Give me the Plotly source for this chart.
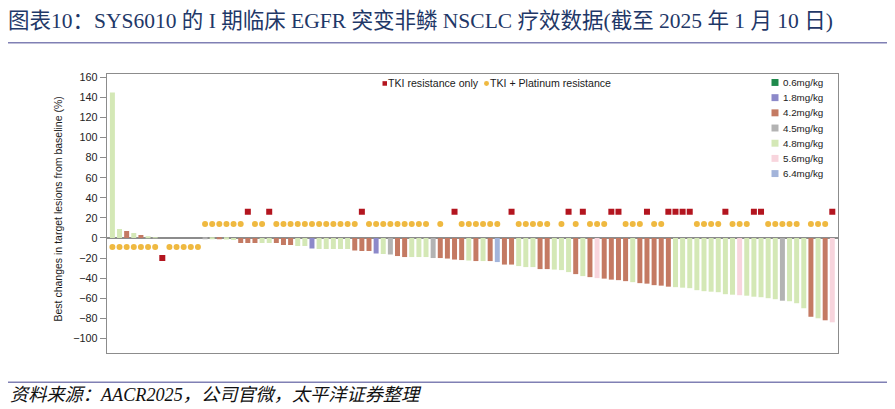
import plotly.graph_objects as go

# 每位病人的最佳肿瘤缩小幅度（%），按瀑布图顺序
values = [
    145, 9, 7, 5, 3, 1, 0.5, 0, 0, 0, 0, 0, 0,
    -0.5, -1, -1, -1.5, -2, -5, -5, -5, -5, -5, -5, -7, -7, -8, -8,
    -10.5, -11, -11, -11, -11, -11, -12.5, -13, -13, -15.5, -16, -16.5,
    -18, -19, -19, -19, -19, -20, -20, -20.5, -21.5, -22, -22.5, -23,
    -23, -23, -24, -26.5, -26.5, -28, -29, -29, -31, -31, -31.5, -32,
    -34, -36, -38, -39, -40, -40.5, -41.5, -42, -43, -44, -45, -45.5,
    -47, -47.5, -48.5, -49, -49.5, -50, -52, -53, -53.5, -54, -56,
    -56.5, -57, -57.5, -58.5, -59, -60, -61, -62.5, -63, -65, -70,
    -78.5, -80, -82, -84,
]

# 剂量组（mg/kg）
doses = [
    "4.8", "4.8", "4.2", "4.8", "4.2", "4.8", "4.8", "4.8", "4.8", "4.8", "4.8", "4.8", "4.8",
    "4.5", "4.8", "4.2", "4.8", "4.8", "4.2", "4.2", "4.2", "4.8", "4.8", "4.2", "4.2", "4.2", "4.8", "4.8",
    "1.8", "4.8", "4.8", "4.8", "4.8", "4.8", "4.2", "4.2", "4.2", "1.8", "4.8", "4.5",
    "4.2", "4.2", "4.8", "4.8", "4.8", "4.5", "4.2", "4.2", "4.2", "4.2", "4.8", "4.2",
    "4.8", "4.2", "6.4", "4.2", "4.2", "4.8", "4.8", "4.8", "4.2", "4.2", "4.8", "4.8",
    "4.8", "4.2", "4.8", "4.2", "5.6", "4.2", "4.2", "4.2", "4.2", "4.8", "4.2", "4.2",
    "4.2", "4.2", "4.2", "4.8", "4.8", "4.8", "4.8", "4.8", "4.8", "4.8", "4.8",
    "4.8", "5.6", "4.8", "4.8", "4.8", "4.8", "4.8", "4.5", "4.8", "4.8", "4.8",
    "4.2", "4.8", "4.2", "5.6",
]

# 耐药类型：R = TKI resistance only, Y = TKI + Platinum resistance, "" = 无标记
resistance = (
    ["Y"] * 7 + ["R"] + ["Y"] * 5
    + ["Y"] * 6 + ["R"] + ["Y"] * 2 + ["R"] + ["Y"] * 11
    + ["Y", "R"] + ["Y"] * 9 + ["", "Y", "", "R"] + ["Y"] * 6 + ["", "R"]
    + ["Y"] * 5 + ["", "Y", "R", "Y", "R", "Y", "Y", "Y", "R", "R"]
    + ["Y"] * 3 + ["R", "Y", "Y"] + ["R"] * 4 + ["Y"] * 4 + ["R"]
    + ["Y"] * 3 + ["R", "R"] + ["Y"] * 5 + [""] + ["Y"] * 3 + ["R"]
)

dose_order = ["0.6", "1.8", "4.2", "4.5", "4.8", "5.6", "6.4"]
dose_colors = {
    "0.6": "#1f8a4c",
    "1.8": "#8c89c9",
    "4.2": "#c47a63",
    "4.5": "#b3b3b3",
    "4.8": "#d4e8b6",
    "5.6": "#f8d5dd",
    "6.4": "#a3b4da",
}
res_labels = {"R": "TKI resistance only", "Y": "TKI + Platinum resistance"}
res_colors = {"R": "#b3151f", "Y": "#efb940"}

# 页面 body 默认有 8px 边距，图本身比窗口小 8px，坐标按窗口像素换算
OFF = 8
W, H = 895 - OFF, 409 - OFF


def px(x):
    return (x - OFF) / W


def py(y):
    return 1 - (y - OFF) / H


SANS = "Liberation Sans, Arial"
SERIF = "Liberation Serif, Noto Sans CJK SC"

fig = go.Figure()

xs = list(range(len(values)))

for d in dose_order:
    idx = [i for i in xs if doses[i] == d]
    fig.add_trace(go.Bar(
        x=idx,
        y=[values[i] for i in idx],
        width=0.7,
        marker=dict(color=dose_colors[d], line=dict(width=0)),
        name=f"{d}mg/kg",
        showlegend=False,
    ))

# 耐药标记：缩小的病人标在零线上方，其余标在下方
for key, sym, hi, lo in [("Y", "circle", 14, -9), ("R", "square", 26, -20)]:
    idx = [i for i in xs if resistance[i] == key]
    fig.add_trace(go.Scatter(
        x=idx,
        y=[lo if values[i] >= 0 else hi for i in idx],
        mode="markers",
        marker=dict(symbol=sym, size=6, color=res_colors[key], line=dict(width=0)),
        name=res_labels[key],
        showlegend=False,
    ))

shapes = []
annotations = []

# ── 右侧剂量图例 ─────────────────────────────
for k, d in enumerate(dose_order):
    yc = 80 + k * 15.3
    shapes.append(dict(
        type="rect", xref="paper", yref="paper",
        x0=px(771.5), x1=px(778.5), y0=py(yc + 3.5), y1=py(yc - 3.5),
        fillcolor=dose_colors[d], line=dict(width=0),
    ))
    annotations.append(dict(
        text=f"{d}mg/kg", x=px(781), y=py(yc), xref="paper", yref="paper",
        xanchor="left", yanchor="middle", showarrow=False,
        font=dict(size=9.8, color="#1a1a1a", family=SANS),
    ))

# ── 顶部耐药类型图例 ─────────────────────────
shapes.append(dict(
    type="rect", xref="paper", yref="paper",
    x0=px(382.5), x1=px(387), y0=py(83.3), y1=py(78.7),
    fillcolor=res_colors["R"], line=dict(width=0),
))
annotations.append(dict(
    text=res_labels["R"], x=px(386), y=py(81), xref="paper", yref="paper",
    xanchor="left", yanchor="middle", showarrow=False,
    font=dict(size=10.6, color="#1a1a1a", family=SANS),
))
shapes.append(dict(
    type="circle", xref="paper", yref="paper",
    x0=px(484), x1=px(489), y0=py(83.5), y1=py(78.5),
    fillcolor=res_colors["Y"], line=dict(width=0),
))
annotations.append(dict(
    text=res_labels["Y"], x=px(488), y=py(81), xref="paper", yref="paper",
    xanchor="left", yanchor="middle", showarrow=False,
    font=dict(size=10.6, color="#1a1a1a", family=SANS),
))

# 标题、分隔线、来源
annotations.append(dict(
    text="图表10：SYS6010 的 I 期临床 EGFR 突变非鳞 NSCLC 疗效数据(截至 2025 年 1 月 10 日)",
    x=px(6), y=py(18), xref="paper", yref="paper",
    xanchor="left", yanchor="middle", showarrow=False,
    font=dict(size=21.5, color="#1f3868", family=SERIF),
))
annotations.append(dict(
    text="资料来源：AACR2025，公司官微，太平洋证券整理",
    x=px(8), y=py(395), xref="paper", yref="paper",
    xanchor="left", yanchor="middle", showarrow=False,
    font=dict(size=18.2, color="#111", family=SERIF, style="italic"),
))
annotations.append(dict(
    text="Best changes in target lesions from baseline (%)",
    x=px(58), y=py(208), xref="paper", yref="paper",
    xanchor="center", yanchor="middle", showarrow=False, textangle=-90,
    font=dict(size=10.5, color="#1a1a1a", family=SANS),
))
for yl in (40, 382):
    shapes.append(dict(
        type="line", xref="paper", yref="paper",
        x0=px(5), x1=px(890), y0=py(yl), y1=py(yl),
        line=dict(color="#8080b4", width=1.5),
    ))

fig.update_layout(
    width=W,
    height=H,
    autosize=False,
    margin=dict(l=0, r=0, t=0, b=0),
    paper_bgcolor="white",
    plot_bgcolor="white",
    barmode="overlay",
    showlegend=False,
    shapes=shapes,
    annotations=annotations,
    xaxis=dict(
        domain=[px(106.7), px(838)],
        range=[-0.8, 101.8],
        showticklabels=False,
        ticks="",
        showgrid=False,
        zeroline=False,
        showline=True,
        mirror=True,
        linecolor="#8c8c8c",
        linewidth=1,
    ),
    yaxis=dict(
        domain=[py(352.7), py(71.7)],
        range=[-114.7, 163.1],
        tickvals=list(range(-100, 161, 20)),
        ticks="outside",
        ticklen=6,
        tickcolor="#8c8c8c",
        tickfont=dict(size=10.8, color="#222", family=SANS),
        showgrid=False,
        zeroline=True,
        zerolinecolor="#8c8c8c",
        zerolinewidth=1.5,
        showline=True,
        mirror=True,
        linecolor="#8c8c8c",
        linewidth=1,
    ),
)

fig.write_html("out.html")
